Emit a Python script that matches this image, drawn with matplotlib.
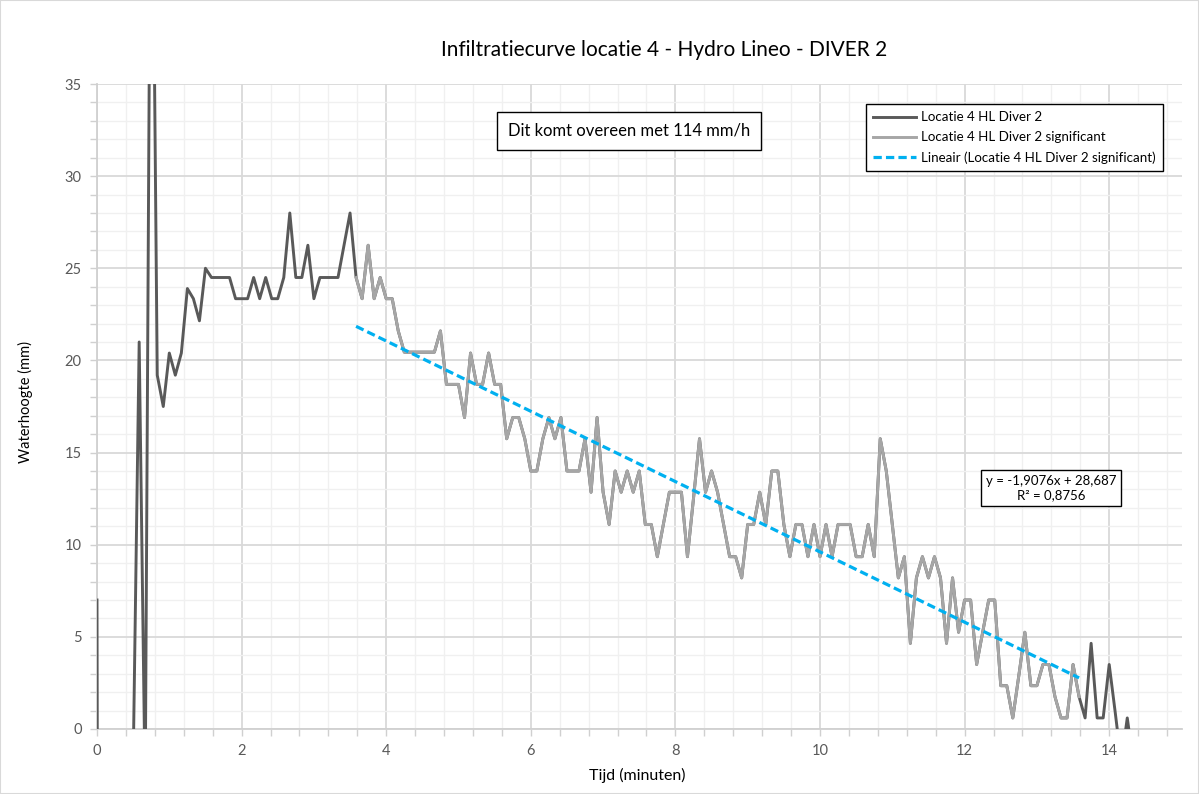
import numpy as np
import matplotlib.pyplot as plt
from matplotlib.ticker import MultipleLocator
from matplotlib.patches import Rectangle

plt.rcParams['font.family'] = ['Lato', 'DejaVu Sans']

# meetinterval diver: 5 seconden
stap_min = 1 / 12

# waterhoogte (mm) voor het significante deel (ook negatief: diver nog droog)
hoogte_voor = [7.0, -150, -150, -150, -150, -150, -2.0, 21.0, -3.5, 55.0,
               19.2, 17.5, 20.4, 19.2, 20.4, 23.9, 23.35, 22.15, 25.0, 24.5,
               24.5, 24.5, 24.5, 23.35, 23.35, 23.35, 24.5, 23.35, 24.5, 23.35,
               23.35, 24.5, 28.0, 24.5, 24.5, 26.25, 23.35, 24.5, 24.5, 24.5,
               24.5, 26.25, 28.0]

# significant deel (3,58 - 13,58 min)
hoogte_sig = [24.5, 23.35, 26.25, 23.35, 24.5, 23.35, 23.35, 21.6, 20.45, 20.45,
              20.45, 20.45, 20.45, 20.45, 21.6, 18.7, 18.7, 18.7, 16.9, 20.4,
              18.7, 18.7, 20.4, 18.7, 18.7, 15.75, 16.9, 16.9, 15.75, 14.0,
              14.0, 15.75, 16.9, 15.75, 16.9, 14.0, 14.0, 14.0, 15.75, 12.85,
              16.9, 12.85, 11.1, 14.0, 12.85, 14.0, 12.85, 14.0, 11.1, 11.1,
              9.35, 11.1, 12.85, 12.85, 12.85, 9.35, 12.5, 15.75, 12.85, 14.0,
              12.85, 11.1, 9.35, 9.35, 8.2, 11.1, 11.1, 12.85, 11.1, 14.0,
              14.0, 11.1, 9.35, 11.1, 11.1, 9.35, 11.1, 9.35, 11.1, 9.35,
              11.1, 11.1, 11.1, 9.35, 9.35, 11.1, 9.35, 15.75, 14.0, 11.1,
              8.2, 9.35, 4.65, 8.2, 9.35, 8.2, 9.35, 8.2, 4.65, 8.2,
              5.25, 7.0, 7.0, 3.5, 5.25, 7.0, 7.0, 2.35, 2.35, 0.6,
              2.9, 5.25, 2.35, 2.35, 3.5, 3.5, 1.75, 0.6, 0.6, 3.5,
              1.75]

hoogte_na = [0.6, 4.65, 0.6, 0.6, 3.5, 0.9, -1.8, 0.6, -1.8]

# lineaire trendlijn (Excel)
helling = -1.9076
snijpunt = 28.687
r2 = 0.8756

hoogte = np.array(hoogte_voor + hoogte_sig + hoogte_na)
tijd = np.arange(len(hoogte)) * stap_min
i0 = len(hoogte_voor)
tijd_sig = tijd[i0:i0 + len(hoogte_sig)]

fig = plt.figure(figsize=(11.99, 7.94), dpi=100)
ax = fig.add_axes([97 / 1199, 65 / 794, 1084.5 / 1199, 645 / 794])

ax.plot(tijd, hoogte, color='#595959', lw=2.1, label='Locatie 4 HL Diver 2', zorder=3)
ax.plot(tijd_sig, hoogte_sig, color='#A6A6A6', lw=2.1,
        label='Locatie 4 HL Diver 2 significant', zorder=3.1)
xt = np.array([tijd_sig[0], tijd_sig[-1]])
ax.plot(xt, helling * xt + snijpunt, color='#00B0F0', lw=2.3, zorder=3.2,
        linestyle=(0, (2.6, 1.3)), label='Lineair (Locatie 4 HL Diver 2 significant)')

ax.set_xlim(0, 15)
ax.set_ylim(0, 35)
ax.xaxis.set_major_locator(MultipleLocator(2))
ax.xaxis.set_minor_locator(MultipleLocator(0.4))
ax.yaxis.set_major_locator(MultipleLocator(5))
ax.yaxis.set_minor_locator(MultipleLocator(1))
ax.grid(which='major', color='#D9D9D9', lw=1.3)
ax.grid(which='minor', color='#F0F0F0', lw=1.0)
ax.set_axisbelow(True)

for s in ['top', 'right']:
    ax.spines[s].set_visible(False)
for s in ['left', 'bottom']:
    ax.spines[s].set_color('#D0D0D0')
    ax.spines[s].set_linewidth(1.3)
ax.tick_params(which='both', direction='out', color='#D0D0D0', length=5, width=1)
ax.tick_params(which='major', labelsize=10.5, labelcolor='#595959')
ax.tick_params(axis='y', which='major', pad=6)
ax.tick_params(axis='x', which='major', pad=6)

fig.text(664 / 1199, 1 - 50 / 794, 'Infiltratiecurve locatie 4 - Hydro Lineo - DIVER 2',
         ha='center', va='center', fontsize=15, color='black')
fig.text(25 / 1199, 1 - 402 / 794, 'Waterhoogte (mm)', rotation=90,
         ha='center', va='center', fontsize=10.5, color='black')
fig.text(637 / 1199, 1 - 775 / 794, 'Tijd (minuten)',
         ha='center', va='center', fontsize=11.5, color='black')

fig.text(629 / 1199, 1 - 131 / 794, 'Dit komt overeen met 114 mm/h',
         ha='center', va='center', fontsize=12, color='black',
         bbox=dict(boxstyle='square,pad=0.65', fc='white', ec='black', lw=1))

vgl = 'y = {:.4f}x + {:.3f}\nR² = {:.4f}'.format(helling, snijpunt, r2).replace('.', ',')
fig.text(1051 / 1199, 1 - 488 / 794, vgl, ha='center', va='center',
         fontsize=9.5, color='black', linespacing=1.2,
         bbox=dict(boxstyle='square,pad=0.35', fc='white', ec='black', lw=1))

leg = ax.legend(loc='upper left', bbox_to_anchor=(866 / 1199, 1 - 104 / 794),
                bbox_transform=fig.transFigure, fancybox=False, edgecolor='black',
                framealpha=1, fontsize=9.6, handlelength=3.2, borderpad=0.55,
                labelspacing=0.6, handletextpad=0.4, borderaxespad=0)
leg.get_frame().set_linewidth(1.0)
leg.set_zorder(5)

fig.patches.append(Rectangle((0, 0), 1, 1, transform=fig.transFigure,
                             fill=False, ec='#D9D9D9', lw=1.5))

fig.savefig('out.png', dpi=100)
